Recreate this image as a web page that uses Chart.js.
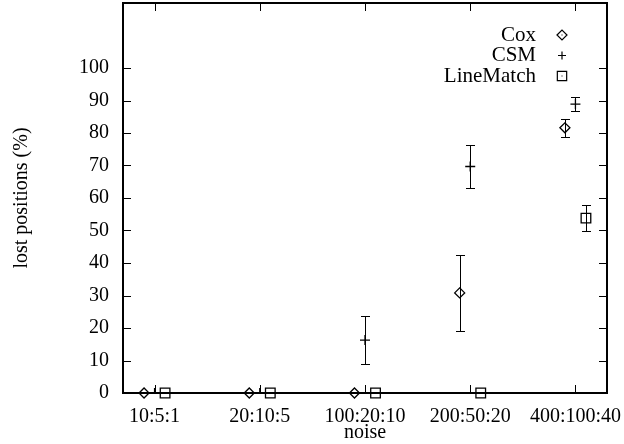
<!DOCTYPE html>
<html><head><meta charset="utf-8">
<script src="https://cdn.jsdelivr.net/npm/chart.js@4/dist/chart.umd.min.js"></script>
<style>html,body{margin:0;padding:0;background:#fff;overflow:hidden}canvas{display:block}</style>
</head><body>
<canvas id="c" width="624" height="444"></canvas>
<script>
const categories = ['10:5:1', '20:10:5', '100:20:10', '200:50:20', '400:100:40'];
const yTickValues = [0, 10, 20, 30, 40, 50, 60, 70, 80, 90, 100];
const seriesNames = ['Cox', 'CSM', 'LineMatch'];
const coxValues = [0, 0, 0, 30.8, 81.6];
const coxErrors = [0, 0, 0, 11.7, 2.8];
const csmValues = [0, 0, 16.3, 69.7, 88.9];
const csmErrors = [0, 0, 7.4, 6.7, 2.2];
const lineMatchValues = [0, 0, 0, 0, 53.8];
const lineMatchErrors = [0, 0, 0, 0, 4.0];

const FONT = "'Liberation Serif', 'Times New Roman', serif";
const INK = '#000';
Chart.defaults.font.family = FONT;
Chart.defaults.font.size = 20;
Chart.defaults.color = INK;

function pts(values, shift) { return values.map((v, i) => ({ x: i + shift, y: v })); }

const common = { showLine: false, borderColor: INK, backgroundColor: 'rgba(0,0,0,0)',
  pointBorderColor: INK, pointBackgroundColor: 'rgba(0,0,0,0)', pointBorderWidth: 1.3 };

const datasets = [
  Object.assign({ label: seriesNames[0], data: pts(coxValues, -0.1), errors: coxErrors,
    pointStyle: 'rectRot', pointRadius: 5, legendRadius: 5, clip: false }, common),
  Object.assign({ label: seriesNames[1], data: pts(csmValues, 0), errors: csmErrors,
    pointStyle: 'cross', pointRadius: 5, legendRadius: 4, clip: 0 }, common),
  Object.assign({ label: seriesNames[2], data: pts(lineMatchValues, 0.1), errors: lineMatchErrors,
    pointStyle: 'rect', pointRadius: 6.8, legendRadius: 6.6, clip: false }, common)
];

const errorBarPlugin = {
  id: 'errbars',
  beforeDatasetsDraw(chart) {
    const { ctx, scales: { x, y } } = chart;
    ctx.save(); ctx.strokeStyle = INK; ctx.lineWidth = 1;
    chart.data.datasets.forEach(ds => {
      ds.data.forEach((p, i) => {
        const e = ds.errors[i]; if (!e) return;
        const px = Math.round(x.getPixelForValue(p.x)) + 0.5;
        const yt = Math.round(y.getPixelForValue(p.y + e)) + 0.5;
        const yb = Math.round(y.getPixelForValue(p.y - e)) + 0.5;
        ctx.beginPath();
        ctx.moveTo(px, yt); ctx.lineTo(px, yb);
        ctx.moveTo(px - 4.5, yt); ctx.lineTo(px + 4.5, yt);
        ctx.moveTo(px - 4.5, yb); ctx.lineTo(px + 4.5, yb);
        ctx.stroke();
      });
    });
    ctx.restore();
  }
};

const framePlugin = {
  id: 'frame',
  afterDraw(chart) {
    const { ctx, chartArea: a, scales: { x, y } } = chart;
    ctx.save(); ctx.strokeStyle = INK; ctx.lineWidth = 1;
    const T = 8;
    ctx.beginPath();
    y.ticks.forEach(t => {
      const py = Math.round(y.getPixelForValue(t.value)) + 0.5;
      ctx.moveTo(a.left, py); ctx.lineTo(a.left + T, py);
      ctx.moveTo(a.right, py); ctx.lineTo(a.right - T, py);
    });
    x.ticks.forEach(t => {
      const px = Math.round(x.getPixelForValue(t.value)) + 0.5;
      ctx.moveTo(px, a.bottom); ctx.lineTo(px, a.bottom - T);
      ctx.moveTo(px, a.top); ctx.lineTo(px, a.top + T);
    });
    ctx.stroke();
    ctx.lineWidth = 2;
    ctx.strokeRect(a.left, a.top, a.right - a.left, a.bottom - a.top);

    // legend (text, then symbol on the right)
    ctx.font = '21px ' + FONT;
    ctx.textAlign = 'right'; ctx.textBaseline = 'middle';
    const textRight = a.right - 71, symX = a.right - 45;
    chart.data.datasets.forEach((ds, i) => {
      const ry = a.top + 32 + i * 20.5;
      ctx.fillStyle = INK;
      ctx.fillText(ds.label, textRight, ry);
      ctx.lineWidth = 1.2; ctx.strokeStyle = INK; ctx.fillStyle = 'rgba(0,0,0,0)';
      Chart.helpers.drawPoint(ctx, { pointStyle: ds.pointStyle, radius: ds.legendRadius, rotation: 0, borderWidth: 1.2 }, symX, ry);
      if (ds.pointStyle !== 'cross') { ctx.fillStyle = INK; ctx.fillRect(symX - 0.5, ry - 0.5, 1, 1); }
    });
    ctx.restore();
  }
};

function noPad(s) { s.paddingLeft = 0; s.paddingRight = 0; s.paddingTop = 0; s.paddingBottom = 0; }

new Chart(document.getElementById('c'), {
  type: 'scatter',
  data: { datasets },
  options: {
    responsive: false, animation: false, events: [],
    layout: { autoPadding: false, padding: { top: 3, right: 17, left: 0, bottom: 0 } },
    plugins: { legend: { display: false }, tooltip: { enabled: false } },
    scales: {
      x: {
        type: 'linear', min: -0.3, max: 4.3,
        grid: { display: false, drawTicks: false, tickLength: 0 },
        border: { display: false },
        afterBuildTicks: s => { s.ticks = categories.map((c, i) => ({ value: i })); },
        afterFit: s => { s.height = 51; noPad(s); },
        ticks: { autoSkip: false, maxRotation: 0, padding: 12,
          callback: v => categories[v] !== undefined ? categories[v] : '' },
        title: { display: true, text: 'noise', font: { size: 20, lineHeight: 1 }, padding: { top: 0, bottom: 1 } }
      },
      y: {
        type: 'linear', min: 0, max: 120,
        grid: { display: false, drawTicks: false, tickLength: 0 },
        border: { display: false },
        afterBuildTicks: s => { s.ticks = yTickValues.map(v => ({ value: v })); },
        afterFit: s => { s.width = 123; noPad(s); },
        ticks: { padding: 14, callback: v => String(v) },
        title: { display: true, text: 'lost positions (%)', font: { size: 20, lineHeight: 1 }, padding: { top: 12, bottom: 0 } }
      }
    }
  },
  plugins: [errorBarPlugin, framePlugin]
});
</script>
</body></html>
